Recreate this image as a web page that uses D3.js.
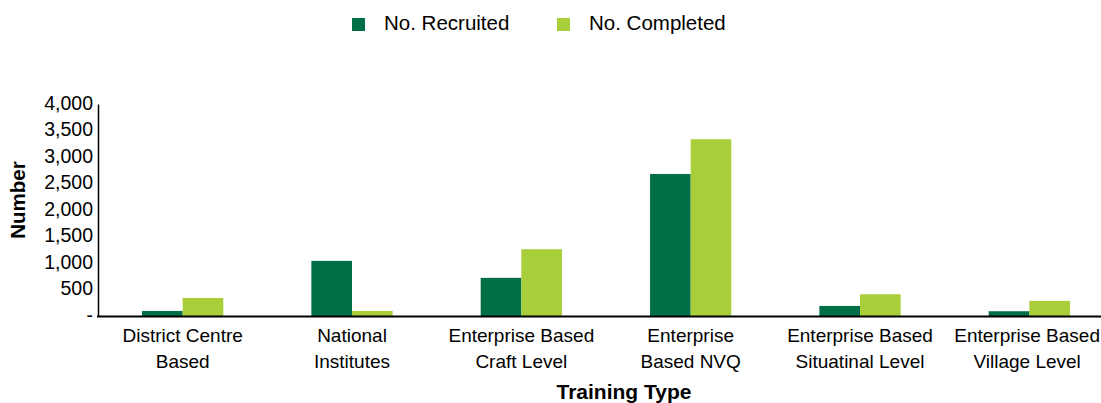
<!DOCTYPE html>
<html><head><meta charset="utf-8">
<script src="https://cdn.jsdelivr.net/npm/d3@7"></script>
<style>body{margin:0;background:#fff}svg{display:block;font-family:"Liberation Sans",Arial,sans-serif}</style>
</head><body><svg id="c" width="1101" height="403"></svg>
<script>
const categories = [["District Centre","Based"],["National","Institutes"],["Enterprise Based","Craft Level"],["Enterprise","Based NVQ"],["Enterprise Based","Situatinal Level"],["Enterprise Based","Village Level"]];
const seriesNames = ["No. Recruited","No. Completed"];
const recruited = [95, 1040, 720, 2680, 190, 90];
const completed = [340, 95, 1260, 3335, 410, 285];
const yTicks = [0,500,1000,1500,2000,2500,3000,3500,4000];
const colors = ["#006f45","#a8ce3a"];

const W = 1101;
const svg = d3.select("#c");
const x0 = d3.scaleBand().domain(d3.range(categories.length)).range([98,1114]).paddingInner(0.52).paddingOuter(0.26);
const x1 = d3.scaleBand().domain([0,1]).range([0,x0.bandwidth()]);
const y = d3.scaleLinear().domain([0,4000]).range([316,104]);

const g = svg.append("g");
categories.forEach((c,i)=>{
  [recruited[i],completed[i]].forEach((v,j)=>{
    g.append("rect").attr("x",x0(i)+x1(j)).attr("width",x1.bandwidth()).attr("y",y(v)).attr("height",y(0)-y(v)).attr("fill",colors[j]);
  });
});

const fmt = d=> d===0 ? "-" : d3.format(",")(d);
const ya = svg.append("g").attr("transform","translate(98,0)").call(d3.axisLeft(y).tickValues(yTicks).tickFormat(fmt).tickSize(0).tickPadding(5));
ya.select(".domain").attr("stroke","#000").attr("stroke-width",1.5);
ya.selectAll("text").attr("font-size",19.5).attr("fill","#000").attr("font-family","Liberation Sans, Arial, sans-serif").attr("dy","0.28em");

svg.append("line").attr("x1",97).attr("x2",W).attr("y1",316.5).attr("y2",316.5).attr("stroke","#000").attr("stroke-width",2);

categories.forEach((c,i)=>{
  const t = svg.append("text").attr("text-anchor","middle").attr("font-size",19).attr("fill","#000");
  const spans = c.map((line,k)=>t.append("tspan").attr("y",341.5+k*26.5).text(line));
  let cx = x0(i)+x0.bandwidth()/2;
  const wmax = d3.max(spans, s=>s.node().getComputedTextLength());
  if (cx + wmax/2 > W - 1) cx = W - 1 - wmax/2;
  spans.forEach(s=>s.attr("x",cx));
});

svg.append("text").attr("x",624).attr("y",399).attr("text-anchor","middle").attr("font-size",21).attr("font-weight","bold").text("Training Type");
svg.append("text").attr("transform","translate(25,200) rotate(-90)").attr("text-anchor","middle").attr("font-size",20.5).attr("font-weight","bold").text("Number");

const lg = svg.append("g");
const lx = [352,557];
seriesNames.forEach((n,j)=>{
  lg.append("rect").attr("x",lx[j]).attr("y",18).attr("width",13).attr("height",13).attr("fill",colors[j]);
  lg.append("text").attr("x",lx[j]+32).attr("y",30).attr("font-size",20.5).attr("fill","#000").text(n);
});
</script></body></html>
